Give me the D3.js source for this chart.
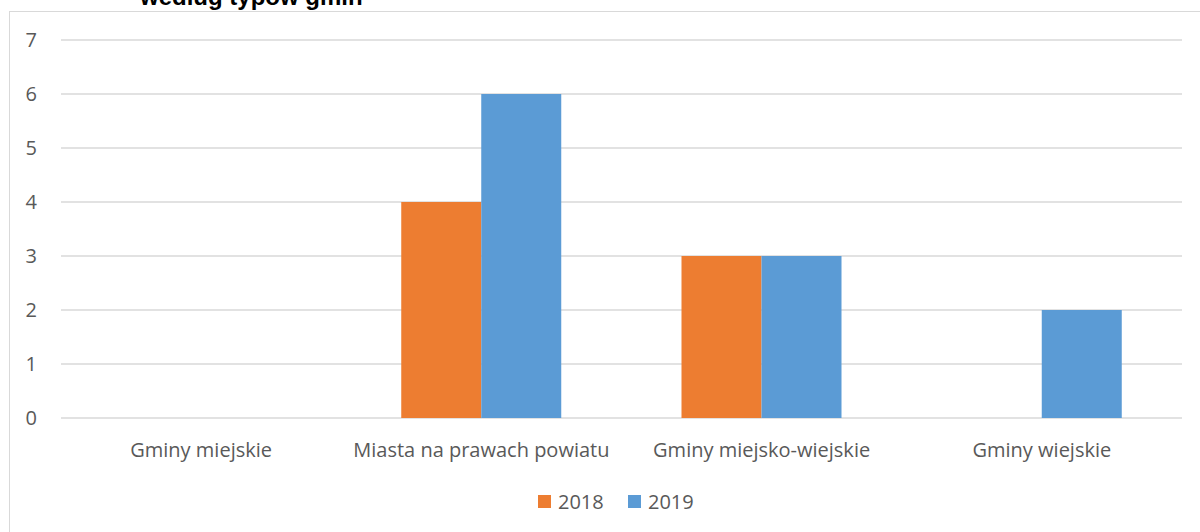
<!DOCTYPE html>
<html><head><meta charset="utf-8">
<script src="https://cdn.jsdelivr.net/npm/d3@7"></script>
<style>
body{margin:0;background:#fff;}
svg{display:block;}
</style></head>
<body><svg id="c" width="1200" height="532"></svg>
<script>
const categories = ["Gminy miejskie","Miasta na prawach powiatu","Gminy miejsko-wiejskie","Gminy wiejskie"];
const seriesNames = ["2018","2019"];
const values2018 = [0,4,3,0];
const values2019 = [0,6,3,2];
const yTicks = [0,1,2,3,4,5,6,7];
const colors = ["#ED7D31","#5B9BD5"];

const svg = d3.select("#c");
const font = "'Open Sans', sans-serif";
// chart border
svg.append("rect").attr("x",9.5).attr("y",11.5).attr("width",1200).attr("height",540)
  .attr("fill","none").attr("stroke","#d9d9d9").attr("stroke-width",1);
// title (cut off at top, as in the reference)
svg.append("text").attr("x",140).attr("y",5).attr("font-family","'Liberation Sans', Arial, sans-serif")
  .attr("font-weight","bold").attr("font-size",24).attr("fill","#000").text("według typów gmin");

const x0 = d3.scaleBand().domain(categories).range([61,1182]);
const x1 = d3.scaleBand().domain(seriesNames).range([60,220]);
const y = d3.scaleLinear().domain([0,7]).range([418,40]);

const g = svg.append("g");
g.selectAll("line.grid").data(yTicks).enter().append("line")
  .attr("x1",61).attr("x2",1182).attr("y1",d=>y(d)).attr("y2",d=>y(d))
  .attr("stroke","#d9d9d9").attr("stroke-width",1.5);
g.selectAll("text.yt").data(yTicks).enter().append("text")
  .attr("x",37).attr("y",d=>y(d)+7).attr("text-anchor","end")
  .attr("font-family",font).attr("font-size",20).attr("fill","#595959").text(d=>d);

const data = [values2018, values2019];
data.forEach((vals,si)=>{
  g.selectAll("rect.s"+si).data(vals.map((v,i)=>({c:categories[i],v})).filter(d=>d.v>0)).enter().append("rect")
    .attr("x",d=>x0(d.c)+x1(seriesNames[si]))
    .attr("width",x1.bandwidth())
    .attr("y",d=>y(d.v)).attr("height",d=>y(0)-y(d.v))
    .attr("fill",colors[si]);
});

g.selectAll("text.cat").data(categories).enter().append("text")
  .attr("x",d=>x0(d)+x0.bandwidth()/2).attr("y",457).attr("text-anchor","middle")
  .attr("font-family",font).attr("font-size",20).attr("fill","#595959").text(d=>d);

// legend
const leg = [{n:"2018",x:538,c:colors[0]},{n:"2019",x:628,c:colors[1]}];
leg.forEach(l=>{
  svg.append("rect").attr("x",l.x).attr("y",495).attr("width",13).attr("height",13).attr("fill",l.c);
  svg.append("text").attr("x",l.x+20).attr("y",509).attr("font-family",font).attr("font-size",20)
    .attr("fill","#595959").text(l.n);
});
</script></body></html>
